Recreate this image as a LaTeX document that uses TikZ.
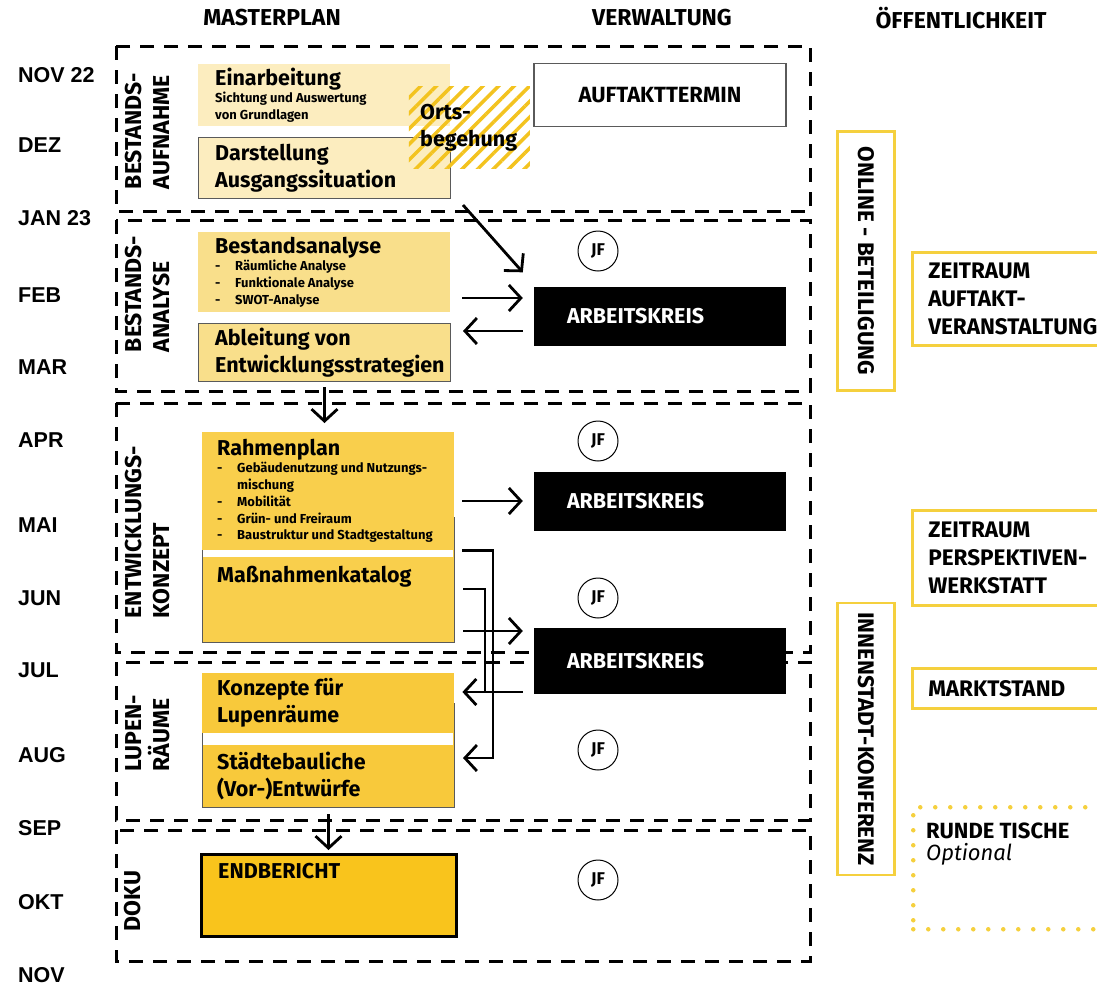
\documentclass[tikz,border=0pt]{standalone}
\usepackage{fontspec}
\setmainfont{Fira Sans}
\newfontfamily\monatfont{Liberation Sans}
\usetikzlibrary{arrows.meta,patterns.meta}

\definecolor{gelbA}{HTML}{FCEDBF}
\definecolor{gelbB}{HTML}{F9DF8B}
\definecolor{gelbC}{HTML}{F9CF4C}
\definecolor{gelbD}{HTML}{F8C93B}
\definecolor{gelbE}{HTML}{F9C41C}
\definecolor{randgelb}{HTML}{F5D03E}
\definecolor{streifen}{HTML}{F3C31F}
\definecolor{rahmengrau}{HTML}{5A5A5A}

\newcommand{\punkt}{\makebox[20pt][l]{-}}
\newcommand{\titelgross}{\fontsize{21.5}{24}\selectfont}
\newcommand{\kleintext}{\fontsize{13}{16.8}\selectfont\spaceskip=0pt\xspaceskip=0pt\relax}

\tikzset{
  phase/.style={draw, line width=3pt, dash pattern=on 14pt off 10pt},
  phasetext/.style={rotate=90, align=left, inner sep=0pt, font=\bfseries\fontsize{23}{28}\selectfont},
  monat/.style={anchor=west, inner sep=0pt, font=\monatfont\bfseries\fontsize{21.5}{24}\selectfont},
  kopf/.style={inner sep=0pt, font=\bfseries\fontsize{23}{26}\selectfont},
  planbox/.style={rectangle, anchor=north west, inner sep=0pt, minimum width=252pt},
  plantext/.style={anchor=west, text width=245pt, align=flush left, inner sep=0pt, font=\bfseries\fontsize{21.5}{27}\selectfont},
  ak/.style={fill=black, text=white, minimum width=252pt, text width=186pt, inner xsep=33pt, align=left, font=\bfseries\fontsize{21.5}{24}\selectfont},
  jf/.style={circle, draw, line width=1pt, minimum size=40pt, inner sep=0pt, font=\bfseries\fontsize{17}{17}\selectfont},
  oeffband/.style={rotate=-90, draw=randgelb, line width=2.5pt, minimum height=57pt, font=\bfseries\fontsize{22.5}{24}\selectfont},
  oeffbox/.style={anchor=north west, draw=randgelb, line width=2.5pt, text width=190pt, inner xsep=16pt, align=left, font=\bfseries\fontsize{22.5}{28}\selectfont},
  rundbox/.style={anchor=north west, draw=randgelb, line width=4.5pt, line cap=round, dash pattern=on 0pt off 15pt, minimum width=220pt},
  pfeil/.style={draw, line width=2.8pt, -{Straight Barb[length=12pt,width=26pt]}},
  linie/.style={draw, line width=2.8pt},
}

\begin{document}
\begin{tikzpicture}[x=1pt, y=-1pt]
\useasboundingbox (0,0) rectangle (1097,989);

% Kopfzeile
\node[kopf] (masterplan) at (272,18) {MASTERPLAN};
\node[kopf] (verwaltung) at (662,18) {VERWALTUNG};
\node[kopf] (oeffentlichkeit) at (961,18) {ÖFFENTLICHKEIT};

% Monate
\node[monat] (nov22) at (18,75) {NOV 22};
\node[monat] (dez) at (18,145) {DEZ};
\node[monat] (jan23) at (18,218) {JAN 23};
\node[monat] (feb) at (18,295) {FEB};
\node[monat] (mar) at (18,367) {MAR};
\node[monat] (apr) at (18,440) {APR};
\node[monat] (mai) at (18,525) {MAI};
\node[monat] (jun) at (18,598) {JUN};
\node[monat] (jul) at (18,670) {JUL};
\node[monat] (aug) at (18,755) {AUG};
\node[monat] (sep) at (18,828) {SEP};
\node[monat] (okt) at (18,902) {OKT};
\node[monat] (novende) at (18,975) {NOV};

% Phasen
\draw[phase] (116,46) rectangle (810,211);
\draw[phase] (116,220) rectangle (810,391);
\draw[phase] (116,403) rectangle (810,652);
\draw[phase] (116,662) rectangle (810,820);
\draw[phase] (116,830) rectangle (810,961);
\node[phasetext] (aufnahme) at (148,131) {BESTANDS-\\AUFNAHME};
\node[phasetext] (analyse) at (148,294) {BESTANDS-\\ANALYSE};
\node[phasetext] (konzept) at (148,532) {ENTWICKLUNGS-\\KONZEPT};
\node[phasetext] (lupen) at (148,733) {LUPEN-\\RÄUME};
\node[phasetext] (doku) at (133,901) {DOKU};

% Masterplan
\node[planbox, fill=gelbA, minimum height=62pt] (einarb) at (198,64) {};
\node[plantext] (einarbtext) at ([xshift=17pt]einarb.west) {{\titelgross Einarbeitung\par}{\kleintext Sichtung und Auswertung\\von Grundlagen\par}};
\node[planbox, fill=gelbA, draw=rahmengrau, line width=1pt, minimum height=61pt] (darst) at (198,137) {};
\node[plantext] (darsttext) at ([xshift=17pt]darst.west) {Darstellung\\Ausgangssituation};
\node[planbox, minimum width=121pt, minimum height=82pt, pattern={Lines[angle=45,distance=11pt,line width=3.5pt]}, pattern color=streifen] (ortsbeg) at (407,85) {};
\node[plantext] (ortstext) at ([xshift=13pt]ortsbeg.west) {Orts-\\begehung};

\node[planbox, fill=gelbB, minimum height=80pt] (bestand) at (198,232) {};
\node[plantext] (bestandtext) at ([xshift=17pt]bestand.west) {{\titelgross Bestandsanalyse\par}{\kleintext \punkt Räumliche Analyse\\\punkt Funktionale Analyse\\\punkt SWOT-Analyse\par}};
\node[planbox, fill=gelbB, draw=rahmengrau, line width=1pt, minimum height=58pt] (ableit) at (198,323) {};
\node[plantext] (ableittext) at ([xshift=17pt]ableit.west) {Ableitung von\\Entwicklungsstrategien};

\node[planbox, fill=gelbC, draw=rahmengrau, line width=1pt, minimum height=125pt] (katalog) at (202,517) {};
\node[planbox, fill=gelbC, minimum height=118pt] (rahmen) at (202,432) {};
\fill[white] (203,550) rectangle (453,557);
\node[plantext] (rahmentext) at ([xshift=15pt]rahmen.west) {{\titelgross Rahmenplan\par}{\kleintext \punkt Gebäudenutzung und Nutzungs-\\\hspace*{20pt}mischung\\\punkt Mobilität\\\punkt Grün- und Freiraum\\\punkt Baustruktur und Stadtgestaltung\par}};
\node[plantext] (katalogtext) at (217,577) {Maßnahmenkatalog};

\node[planbox, fill=gelbD, draw=rahmengrau, line width=1pt, minimum height=104pt] (staedte) at (202,703) {};
\node[planbox, fill=gelbD, minimum height=60pt] (konzepte) at (202,673) {};
\fill[white] (203,733) rectangle (453,745);
\node[plantext] (konzeptetext) at ([xshift=15pt]konzepte.west) {Konzepte für\\Lupenräume};
\node[plantext] (staedtetext) at (217,776) {Städtebauliche\\(Vor-)Entwürfe};

\node[planbox, fill=gelbE, draw=black, line width=3pt, minimum width=255pt, minimum height=82pt] (endbericht) at (200,853) {};
\node[plantext] (endtext) at (218,871) {ENDBERICHT};

% Verwaltung
\node[draw=rahmengrau, line width=1.2pt, minimum width=252pt, minimum height=63pt, font=\bfseries\fontsize{22}{24}\selectfont] (auftakt) at (660,95) {AUFTAKTTERMIN};
\node[ak, minimum height=59pt] (ak1) at (660,316) {ARBEITSKREIS};
\node[ak, minimum height=59pt] (ak2) at (660,501) {ARBEITSKREIS};
\node[ak, minimum height=66pt] (ak3) at (660,661) {ARBEITSKREIS};
\node[jf] (jf1) at (598,251) {JF};
\node[jf] (jf2) at (598,441) {JF};
\node[jf] (jf3) at (598,598) {JF};
\node[jf] (jf4) at (598,750) {JF};
\node[jf] (jf5) at (598,880) {JF};

% Oeffentlichkeit
\node[oeffband, minimum width=259pt] (online) at (866,261) {ONLINE - BETEILIGUNG};
\node[oeffband, minimum width=272pt] (innenstadt) at (866,739) {INNENSTADT-KONFERENZ};
\node[oeffbox, minimum height=93pt] (auftaktzeit) at (911,251) {ZEITRAUM\\AUFTAKT-\\VERANSTALTUNG};
\node[oeffbox, minimum height=95pt] (werkstatt) at (911,509) {ZEITRAUM\\PERSPEKTIVEN-\\WERKSTATT};
\node[oeffbox, minimum height=40pt] (marktstand) at (911,667) {MARKTSTAND};
\node[rundbox, minimum height=122pt] (runde) at (911,805) {};
\node[anchor=west, align=left, inner sep=0pt, font=\bfseries\fontsize{22}{22}\selectfont] (rundetext) at (926,844) {RUNDE TISCHE\\{\mdseries\itshape Optional}};

% Pfeile
\coordinate (hin1) at (0,298);
\coordinate (rueck1) at (0,331);
\coordinate (hin3) at (0,631);
\coordinate (ab2) at (0,589);
\coordinate (knick1) at (493,758);
\coordinate (knick2) at (485,692);
\draw[pfeil] ([shift={(12pt,-6pt)}]darst.south east) -- ([shift={(-11pt,14pt)}]ak1.north west);
\draw[pfeil, shorten <=12pt, shorten >=11pt] (bestand.east |- hin1) -- (ak1.west |- hin1);
\draw[pfeil, shorten <=11pt, shorten >=12pt] (ak1.west |- rueck1) -- (ableit.east |- rueck1);
\draw[pfeil, shorten <=5pt, shorten >=9pt] (ableit.south) -- (ableit.south |- rahmen.north);
\draw[pfeil, shorten <=8pt, shorten >=11pt] (rahmen.east |- ak2.west) -- (ak2.west);
\draw[pfeil, shorten <=8pt, shorten >=11pt] (katalog.east |- hin3) -- (ak3.west |- hin3);
\draw[linie, shorten <=8pt] (katalog.east |- ab2) -| (knick2);
\draw[pfeil, shorten <=11pt, shorten >=8pt] (ak3.west |- knick2) -- (konzepte.east |- knick2);
\draw[pfeil, shorten <=8pt, shorten >=8pt] (rahmen.south east) -| (knick1) -- (staedte.east |- knick1);
\draw[pfeil, shorten <=6pt, shorten >=3pt] (staedte.south) -- (staedte.south |- endbericht.north);
\end{tikzpicture}
\end{document}
